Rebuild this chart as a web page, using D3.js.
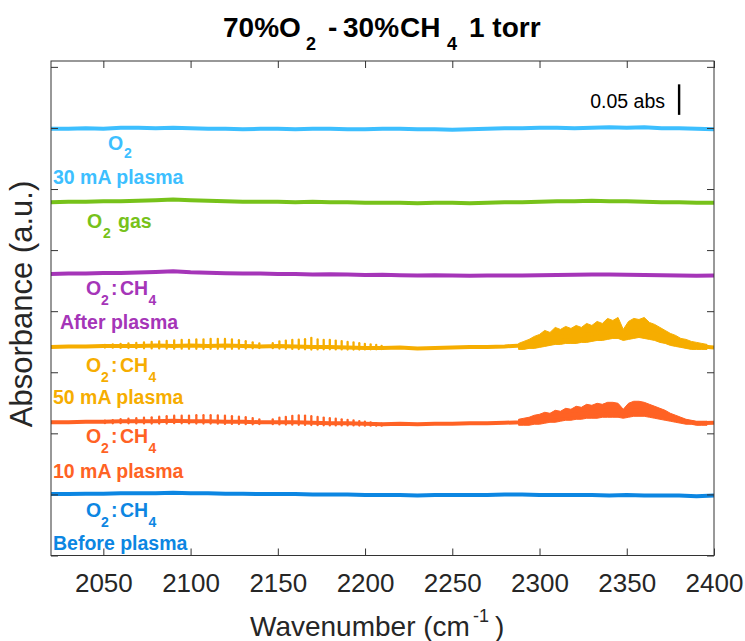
<!DOCTYPE html>
<html><head><meta charset="utf-8">
<script src="https://cdn.jsdelivr.net/npm/d3@7"></script>
<style>body{margin:0;background:#fff} svg{display:block;font-family:"Liberation Sans",Arial,Helvetica,sans-serif}</style>
</head><body>
<svg id="chart" width="745" height="641"></svg>
<script>
// ---------- DATA ----------
const wavenumbers = [2020,2030,2040,2050,2060,2070,2080,2090,2100,2110,2120,2130,2140,2150,2160,2170,2180,2190,2200,2210,2220,2230,2240,2250,2260,2270,2280,2290,2300,2310,2320,2330,2340,2350,2360,2370,2380,2390,2400];

const o2Plasma30 = [0.6985,0.6985,0.6993,0.6985,0.7002,0.7002,0.6993,0.7002,0.6993,0.6985,0.6985,0.6977,0.6985,0.6985,0.6977,0.6985,0.6985,0.6977,0.6977,0.6985,0.6985,0.6977,0.6977,0.6969,0.6977,0.6985,0.6993,0.6993,0.7002,0.7002,0.6993,0.7002,0.7010,0.7002,0.7010,0.6993,0.6993,0.6985,0.6977];
const o2Gas = [0.5785,0.5793,0.5793,0.5801,0.5801,0.5809,0.5817,0.5830,0.5817,0.5809,0.5801,0.5793,0.5793,0.5793,0.5785,0.5793,0.5785,0.5785,0.5776,0.5776,0.5776,0.5768,0.5776,0.5776,0.5768,0.5776,0.5785,0.5785,0.5793,0.5801,0.5801,0.5809,0.5801,0.5801,0.5793,0.5785,0.5785,0.5776,0.5776];
const mixAfter = [0.4608,0.4616,0.4616,0.4624,0.4624,0.4632,0.4641,0.4653,0.4636,0.4628,0.4620,0.4616,0.4616,0.4608,0.4608,0.4600,0.4604,0.4600,0.4592,0.4596,0.4588,0.4583,0.4588,0.4583,0.4579,0.4583,0.4583,0.4583,0.4588,0.4592,0.4596,0.4600,0.4600,0.4596,0.4592,0.4588,0.4583,0.4579,0.4583];
const mixPlasma50 = [0.3415,0.3423,0.3423,0.3431,0.3431,0.3431,0.3440,0.3431,0.3440,0.3431,0.3440,0.3431,0.3423,0.3431,0.3423,0.3415,0.3415,0.3407,0.3399,0.3399,0.3407,0.3391,0.3399,0.3407,0.3415,0.3415,0.3423,0.3440,0.3500,0.3570,0.3600,0.3620,0.3700,0.3640,0.3700,0.3580,0.3480,0.3430,0.3407];
const mixPlasma10 = [0.2181,0.2181,0.2190,0.2190,0.2198,0.2198,0.2198,0.2206,0.2198,0.2198,0.2190,0.2190,0.2181,0.2181,0.2181,0.2173,0.2165,0.2165,0.2157,0.2149,0.2157,0.2149,0.2157,0.2157,0.2165,0.2165,0.2173,0.2181,0.2225,0.2280,0.2310,0.2340,0.2380,0.2360,0.2390,0.2320,0.2215,0.2165,0.2173];
const mixBefore = [0.1005,0.1005,0.1013,0.1013,0.1021,0.1021,0.1021,0.1029,0.1021,0.1021,0.1013,0.1013,0.1005,0.1005,0.1005,0.0997,0.0997,0.0997,0.0989,0.0989,0.0989,0.0981,0.0989,0.0989,0.0989,0.0989,0.0997,0.0997,0.0989,0.0989,0.0989,0.0989,0.0981,0.0989,0.0981,0.0981,0.0981,0.0972,0.0981];

// CO2 band envelope (upper / lower edge of the dense rotational lines)
const co2Wavenumbers = [2288,2291,2294,2297,2300,2303,2306,2309,2312,2315,2318,2321,2324,2327,2330,2333,2336,2339,2342,2345,2348,2351,2354,2357,2360,2363,2366,2369,2372,2375,2378,2381,2384,2387,2390,2393,2396];
const plasma50CO2High = [0.3472,0.3505,0.3538,0.3587,0.3619,0.3685,0.3652,0.3734,0.3701,0.3750,0.3717,0.3766,0.3734,0.3799,0.3766,0.3832,0.3799,0.3881,0.3848,0.3897,0.3701,0.3832,0.3881,0.3864,0.3897,0.3815,0.3783,0.3734,0.3685,0.3636,0.3603,0.3554,0.3538,0.3505,0.3489,0.3472,0.3456];
const plasma50CO2Low  = [0.3374,0.3374,0.3391,0.3391,0.3407,0.3423,0.3440,0.3456,0.3456,0.3472,0.3472,0.3472,0.3489,0.3489,0.3505,0.3521,0.3521,0.3538,0.3554,0.3554,0.3521,0.3538,0.3554,0.3570,0.3554,0.3538,0.3521,0.3489,0.3472,0.3440,0.3423,0.3407,0.3391,0.3374,0.3374,0.3374,0.3374];
const plasma10CO2High = [0.2230,0.2247,0.2263,0.2296,0.2312,0.2345,0.2328,0.2377,0.2361,0.2410,0.2394,0.2443,0.2426,0.2475,0.2459,0.2492,0.2475,0.2508,0.2508,0.2492,0.2394,0.2492,0.2525,0.2525,0.2508,0.2475,0.2443,0.2410,0.2377,0.2328,0.2296,0.2263,0.2230,0.2214,0.2198,0.2198,0.2198];
const plasma10CO2Low  = [0.2132,0.2132,0.2132,0.2149,0.2149,0.2165,0.2181,0.2181,0.2198,0.2214,0.2214,0.2230,0.2230,0.2247,0.2247,0.2247,0.2263,0.2263,0.2263,0.2263,0.2247,0.2263,0.2279,0.2279,0.2279,0.2263,0.2247,0.2230,0.2214,0.2198,0.2181,0.2165,0.2149,0.2149,0.2132,0.2132,0.2132];

// CO rotational lines (P22..P1, R0..R18)
const coLines = [2050.9,2055.4,2059.9,2064.4,2068.9,2073.3,2077.7,2082.0,2086.3,2090.6,2094.9,2099.1,2103.3,2107.4,2111.5,2115.6,2119.7,2123.7,2127.7,2131.6,2135.6,2139.4,2147.1,2150.9,2154.6,2158.3,2162.0,2165.6,2169.2,2172.8,2176.3,2179.8,2183.2,2186.6,2190.0,2193.4,2196.7,2199.9,2203.2,2206.4,2209.5];
const plasma50COTop = [0.3447,0.3456,0.3464,0.3472,0.3480,0.3488,0.3496,0.3505,0.3513,0.3521,0.3529,0.3529,0.3537,0.3537,0.3545,0.3545,0.3545,0.3537,0.3525,0.3509,0.3490,0.3472,0.3477,0.3504,0.3518,0.3530,0.3534,0.3541,0.3563,0.3538,0.3529,0.3529,0.3518,0.3510,0.3497,0.3489,0.3477,0.3464,0.3456,0.3448,0.3432];
const plasma50COBottom = [0.3405,0.3403,0.3399,0.3397,0.3394,0.3392,0.3391,0.3390,0.3388,0.3386,0.3386,0.3385,0.3384,0.3385,0.3384,0.3384,0.3385,0.3384,0.3386,0.3388,0.3392,0.3396,0.3394,0.3388,0.3384,0.3382,0.3379,0.3377,0.3372,0.3374,0.3375,0.3375,0.3374,0.3374,0.3372,0.3373,0.3372,0.3374,0.3375,0.3377,0.3380];
const plasma10COTop = [0.2206,0.2215,0.2231,0.2239,0.2247,0.2255,0.2263,0.2272,0.2280,0.2288,0.2288,0.2288,0.2296,0.2296,0.2296,0.2292,0.2288,0.2280,0.2272,0.2264,0.2250,0.2230,0.2230,0.2255,0.2271,0.2287,0.2294,0.2291,0.2280,0.2269,0.2258,0.2247,0.2239,0.2230,0.2222,0.2211,0.2201,0.2190,0.2180,0.2168,0.2158];
const plasma10COBottom = [0.2166,0.2164,0.2166,0.2164,0.2162,0.2162,0.2160,0.2160,0.2160,0.2166,0.2164,0.2162,0.2160,0.2160,0.2160,0.2158,0.2154,0.2154,0.2152,0.2150,0.2149,0.2152,0.2150,0.2146,0.2144,0.2142,0.2140,0.2138,0.2136,0.2134,0.2132,0.2130,0.2130,0.2130,0.2130,0.2129,0.2128,0.2126,0.2126,0.2126,0.2126];

const xTicks = [2050,2100,2150,2200,2250,2300,2350,2400];
const yTicks = [0,0.1,0.2,0.3,0.4,0.5,0.6,0.7,0.8];
const scaleBar = {value:0.05, base:0.7214, at:2380, label:"0.05 abs"};

const colors = {cyan:"#3dbfff", green:"#77c21a", purple:"#a535b8", yellow:"#f6ad00", orange:"#ff6224", blue:"#0c86e2"};

// ---------- CHART ----------
const svg = d3.select("#chart");
svg.append("rect").attr("width",745).attr("height",641).attr("fill","#fff");
const x = d3.scaleLinear().domain([2020,2400]).range([51,714]);
const y = d3.scaleLinear().domain([0,0.8096]).range([555.5,61]);

svg.append("clipPath").attr("id","clip").append("rect")
  .attr("x",51).attr("y",61).attr("width",663).attr("height",494.5);
const plot = svg.append("g").attr("clip-path","url(#clip)");

const line = d3.line().x(d=>x(d[0])).y(d=>y(d[1]));
const area = d3.area().x(d=>x(d[0])).y0(d=>y(d[1])).y1(d=>y(d[2]));

function band(hi, lo, color){
  plot.append("path").datum(co2Wavenumbers.map((w,i)=>[w,lo[i],hi[i]]))
    .attr("d",area).attr("fill",color).attr("stroke",color).attr("stroke-width",1);
}
function stems(top, bottom, color){
  plot.append("g").selectAll("line").data(coLines).join("line")
    .attr("x1",d=>x(d)).attr("x2",d=>x(d))
    .attr("y1",(d,i)=>y(bottom[i])).attr("y2",(d,i)=>y(top[i]))
    .attr("stroke",color).attr("stroke-width",2.3).attr("stroke-linecap","round");
}
function series(vals,color){
  plot.append("path").datum(wavenumbers.map((w,i)=>[w,vals[i]]))
    .attr("d",line).attr("fill","none").attr("stroke",color)
    .attr("stroke-width",4).attr("stroke-linejoin","round");
}

band(plasma50CO2High, plasma50CO2Low, colors.yellow);
band(plasma10CO2High, plasma10CO2Low, colors.orange);
stems(plasma50COTop, plasma50COBottom, colors.yellow);
stems(plasma10COTop, plasma10COBottom, colors.orange);
series(o2Plasma30, colors.cyan);
series(o2Gas, colors.green);
series(mixAfter, colors.purple);
series(mixPlasma50, colors.yellow);
series(mixPlasma10, colors.orange);
series(mixBefore, colors.blue);

// axes
const axisColor = "#333";
function styleAxis(g){
  g.select(".domain").remove();
  g.selectAll(".tick line").attr("stroke",axisColor).attr("stroke-width",1);
}
svg.append("g").attr("transform","translate(0,555.5)")
  .call(d3.axisBottom(x).tickValues(xTicks).tickSize(-7).tickPadding(18).tickFormat(d3.format("d")))
  .call(styleAxis)
  .call(g=>g.selectAll("text").attr("font-size",26).attr("fill","#262626").attr("font-family","Liberation Sans, Arial, sans-serif"));
svg.append("g").attr("transform","translate(0,61)")
  .call(d3.axisTop(x).tickValues(xTicks).tickSize(-7).tickFormat(""))
  .call(styleAxis);
svg.append("g").attr("transform","translate(51,0)")
  .call(d3.axisLeft(y).tickValues(yTicks).tickSize(-7).tickFormat(""))
  .call(styleAxis);
svg.append("g").attr("transform","translate(714,0)")
  .call(d3.axisRight(y).tickValues(yTicks).tickSize(-7).tickFormat(""))
  .call(styleAxis);
svg.append("rect").attr("x",51).attr("y",61).attr("width",663).attr("height",494.5)
  .attr("fill","none").attr("stroke",axisColor).attr("stroke-width",1);

// scale bar
svg.append("line").attr("x1",x(scaleBar.at)).attr("x2",x(scaleBar.at))
  .attr("y1",y(scaleBar.base)).attr("y2",y(scaleBar.base+scaleBar.value))
  .attr("stroke","#000").attr("stroke-width",2.4);
svg.append("text").attr("x",665).attr("y",108).attr("text-anchor","end")
  .attr("font-size",19.5).attr("fill","#000").text(scaleBar.label);

// text helper
function rich(parts, color, weight){
  const t = svg.append("text").attr("fill",color).attr("font-weight",weight||"bold");
  parts.forEach(p=>{
    t.append("tspan").attr("x",p[1]).attr("y",p[2]).attr("font-size",p[3]).text(p[0]);
  });
}
// title
rich([["70%O",223,37,28],["2",306,50,18],["-",328,37,28],["30%",343,37,28],["CH",400,37,28],["4",447,50,18],["1 torr",469,37,28]],"#000");

// series labels
function mixLabel(base,color){
  rich([["O",86,base,19.5],["2",101,base+10,14],[":",111,base,19.5],["CH",120,base,19.5],["4",148.5,base+10,14]],color);
}
rich([["O",108,150,19.5],["2",124,158,14]],colors.cyan);
rich([["30 mA plasma",53,184,19.5]],colors.cyan);
rich([["O",87,228,19.5],["2",103,238,14],["gas",118,228,19.5]],colors.green);
mixLabel(295,colors.purple);
rich([["After plasma",60,329,19.5]],colors.purple);
mixLabel(372,colors.yellow);
rich([["50 mA plasma",53,404,19.5]],colors.yellow);
mixLabel(443,colors.orange);
rich([["10 mA plasma",53,478,19.5]],colors.orange);
mixLabel(517,colors.blue);
rich([["Before plasma",53,550,19.5]],colors.blue);

// axis titles
rich([["Wavenumber (cm",250,636,28],["-1",473,622,18],[")",495,636,28]],"#262626","normal");
svg.append("text").attr("transform","translate(32,304) rotate(-90)").attr("text-anchor","middle")
  .attr("font-size",31).attr("fill","#262626").text("Absorbance (a.u.)");
</script>
</body></html>
